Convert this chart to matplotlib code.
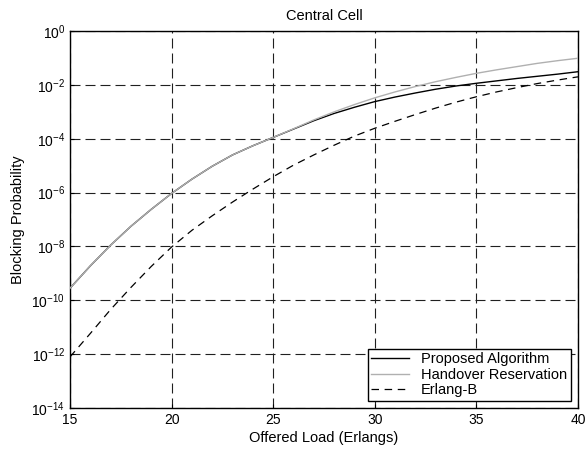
import numpy as np
import matplotlib
matplotlib.use('Agg')
import matplotlib.pyplot as plt
from matplotlib.ticker import FixedLocator

plt.rcParams['font.family'] = ['Liberation Sans', 'DejaVu Sans']

# offered load (Erlangs)
load = [15, 16, 17, 18, 19, 20, 21, 22, 23, 24, 25, 26, 27, 28, 29, 30,
        31, 32, 33, 34, 35, 36, 37, 38, 39, 40]

# log10 of blocking probability
proposed_log = [-9.55, -8.72, -7.95, -7.25, -6.62, -6.03, -5.5, -5.02, -4.6, -4.26,
                -3.95, -3.64, -3.33, -3.06, -2.83, -2.62, -2.45, -2.3, -2.16, -2.04,
                -1.94, -1.85, -1.76, -1.68, -1.6, -1.51]
handover_log = [-9.55, -8.72, -7.95, -7.25, -6.62, -6.03, -5.5, -5.02, -4.6, -4.26,
                -3.95, -3.63, -3.3, -3.0, -2.73, -2.48, -2.26, -2.06, -1.88, -1.72,
                -1.57, -1.44, -1.32, -1.2, -1.1, -1.01]
erlang_log = [-12.1, -11.23, -10.34, -9.52, -8.74, -8.02, -7.4, -6.86, -6.35, -5.87,
              -5.41, -4.98, -4.6, -4.24, -3.9, -3.61, -3.35, -3.1, -2.86, -2.64,
              -2.44, -2.26, -2.1, -1.95, -1.82, -1.7]

proposed = 10.0 ** np.array(proposed_log)
handover = 10.0 ** np.array(handover_log)
erlang = 10.0 ** np.array(erlang_log)

fig = plt.figure(figsize=(5.86, 4.5), dpi=100)
ax = fig.add_axes([0.1195, 0.0933, 0.8668, 0.8377])

ax.semilogy(load, proposed, color='black', lw=1.0, label='Proposed Algorithm')
ax.semilogy(load, handover, color='#b0b0b0', lw=1.0, label='Handover Reservation', zorder=3)
ax.semilogy(load, erlang, color='black', lw=0.9, linestyle=(0, (6, 4.5)), label='Erlang-B')

ax.set_xlim(15, 40)
ax.set_ylim(1e-14, 1e0)
ax.set_xticks([15, 20, 25, 30, 35, 40])
ax.yaxis.set_major_locator(FixedLocator([10.0 ** k for k in range(-14, 1, 2)]))
ax.yaxis.set_minor_locator(FixedLocator([]))
ax.tick_params(direction='in', length=3, labelsize=10, colors='black')
ax.grid(True, color='#202020', linestyle=(0, (9, 4.5)), lw=0.8)

for s in ax.spines.values():
    s.set_linewidth(1.0)

ax.set_title('Central Cell', fontsize=10.5, pad=8)
ax.set_xlabel('Offered Load (Erlangs)', fontsize=10.5, labelpad=3)
ax.set_ylabel('Blocking Probability', fontsize=10.5, labelpad=5)

leg = ax.legend(loc='lower right', fontsize=10.5, fancybox=False, framealpha=1,
                edgecolor='black', handlelength=2.6, borderaxespad=0.5,
                labelspacing=0.1, borderpad=0.25)
leg.get_frame().set_linewidth(1.0)

fig.savefig('out.png', dpi=100)
